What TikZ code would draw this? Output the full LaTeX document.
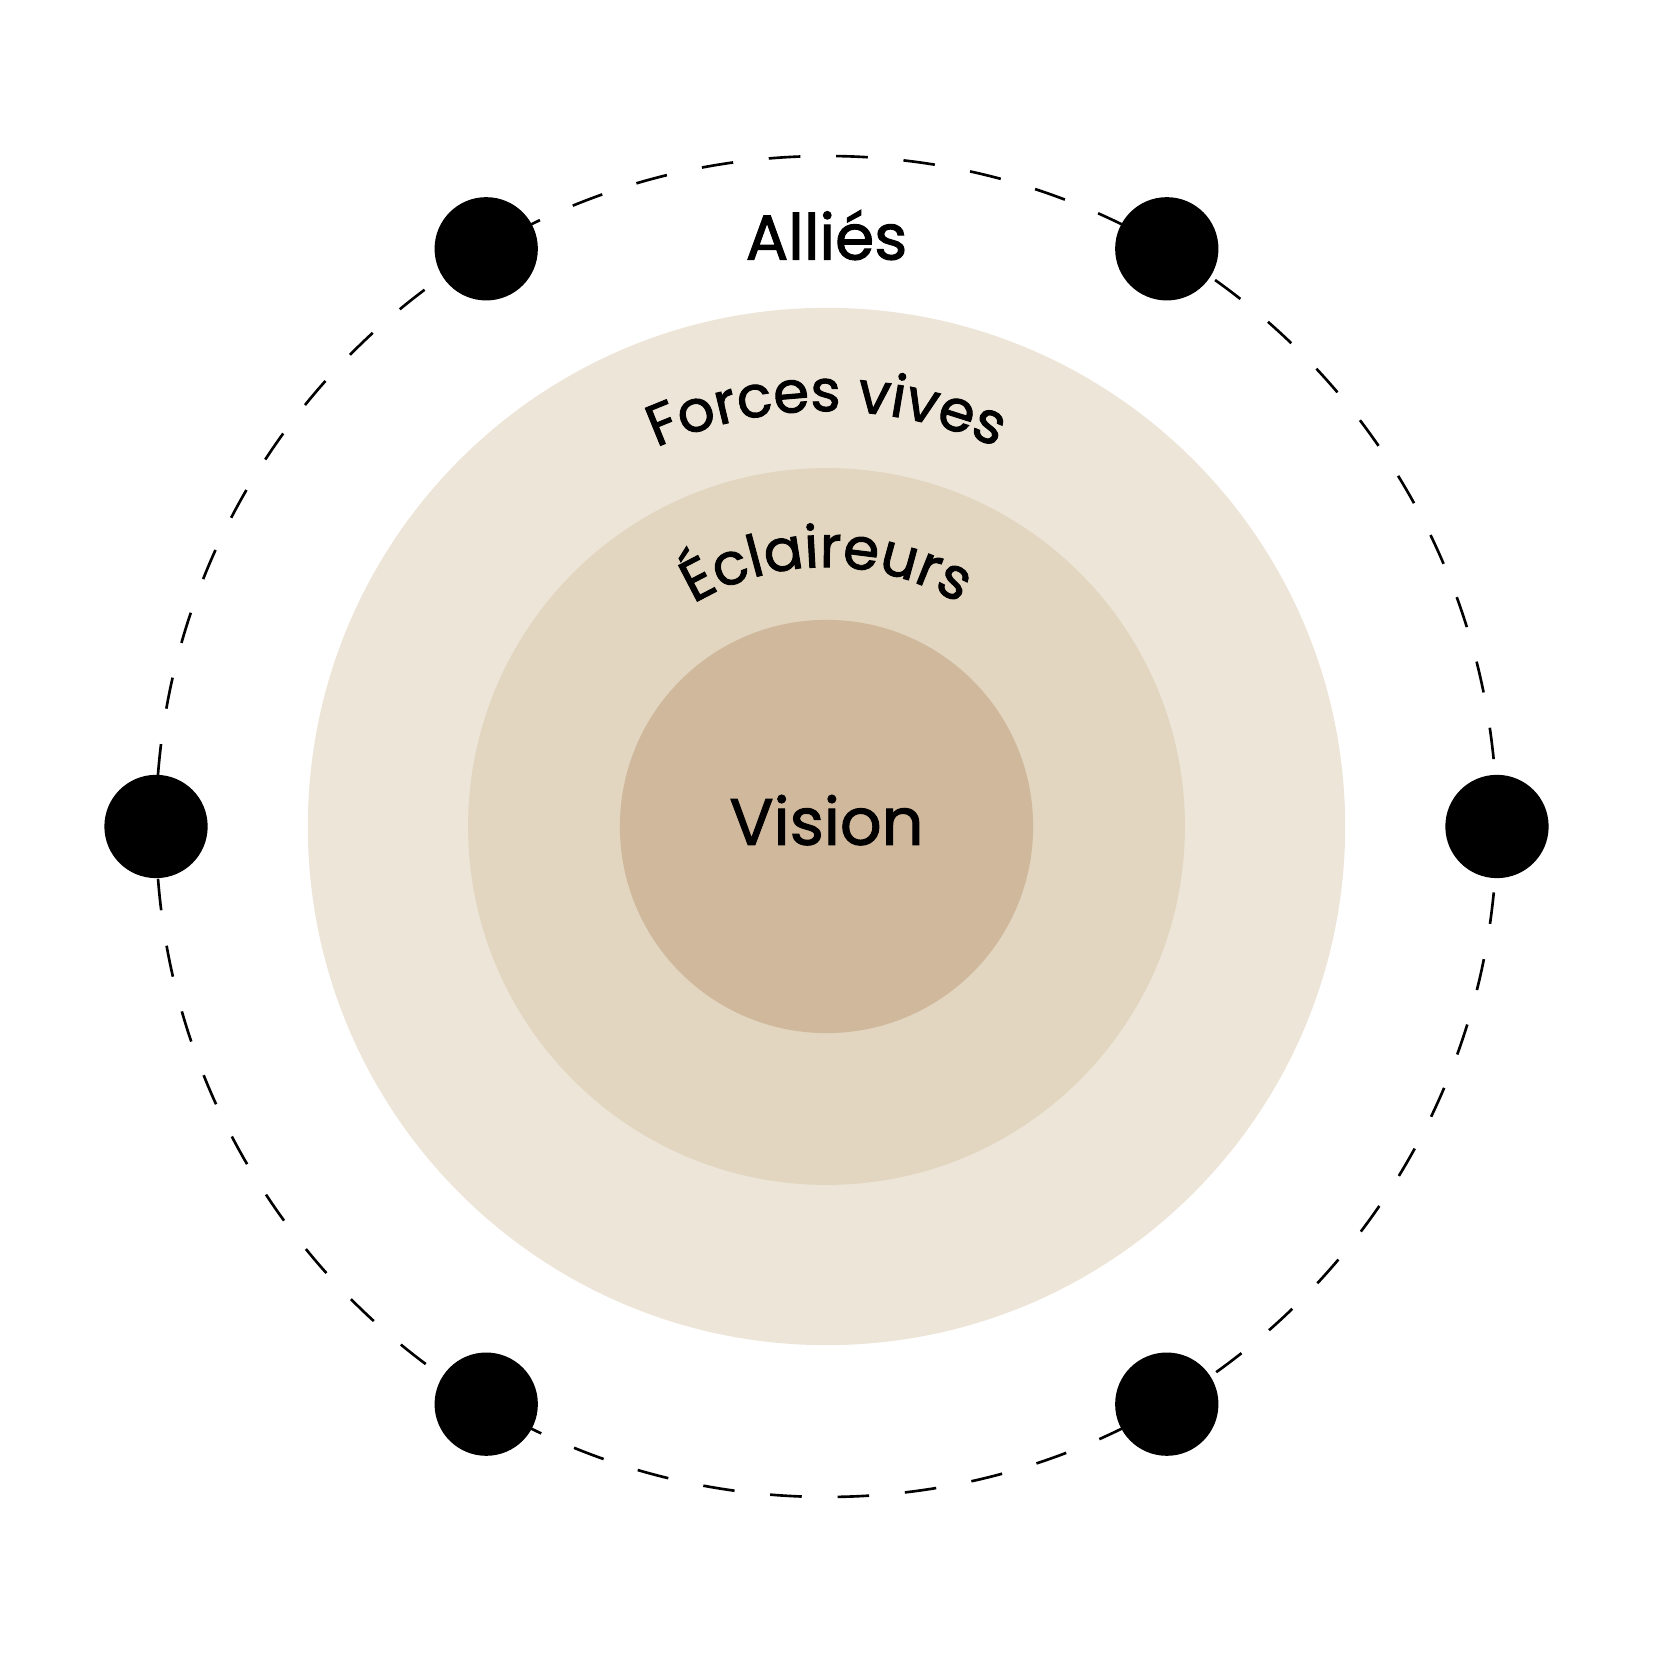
\documentclass[tikz,border=0pt]{standalone}
\usepackage{fontspec}
\setmainfont{Poppins}[FakeBold=1.6]
\usetikzlibrary{decorations.text,calc}
\definecolor{ringA}{HTML}{EDE5D8}
\definecolor{ringB}{HTML}{E2D6C0}
\definecolor{ringC}{HTML}{D0B89C}
\tikzset{dot/.style={circle,fill=black,minimum size=98pt,inner sep=0pt},
 orbit/.style={line width=2.5pt,dash pattern=on 30pt off 34pt}}
\begin{document}
\begin{tikzpicture}[x=1pt,y=1pt]
\useasboundingbox (0,0) rectangle (1568,1568);
\coordinate (c) at (784,784);
\draw[orbit] (c) circle (636);
\fill[ringA] (c) circle (492);
\fill[ringB] (c) circle (340);
\fill[ringC] (c) circle (196);
\foreach \a/\n in {0/d0,59.5/d1,120.5/d2,180/d3,239.5/d4,300.5/d5}
  \node[dot] (\n) at ($(c)+(\a:636)$) {};
\node (vision) at (784,790) {\fontsize{62}{62}\selectfont Vision};
\node (allies) at (784,1345) {\fontsize{60}{60}\selectfont Alliés};
\path[decorate,decoration={text along path,text align=center,
  text={|\fontsize{55}{55}\selectfont|Forces vives}}]
  ($(c)+(150:394)$) arc (150:30:394);
\path[decorate,decoration={text along path,text align=center,
  text={|\fontsize{55}{55}\selectfont|Éclaireurs}}]
  ($(c)+(150:246)$) arc (150:30:246);
\end{tikzpicture}
\end{document}
